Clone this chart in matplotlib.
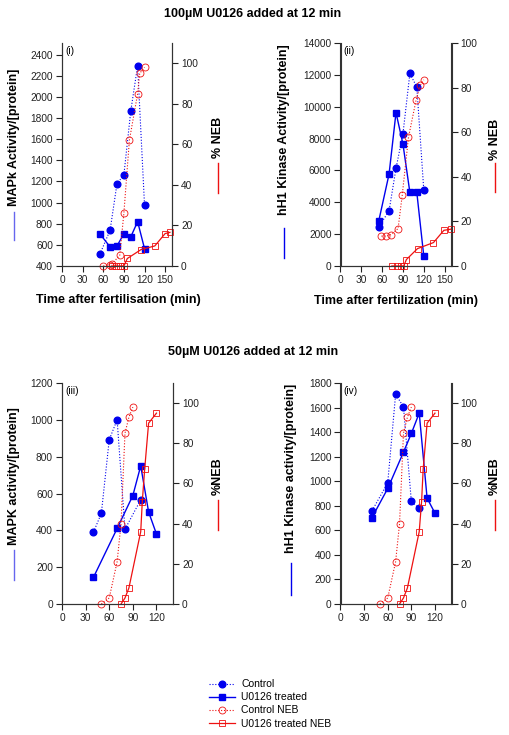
import numpy as np
import matplotlib
matplotlib.use("Agg")
import matplotlib.pyplot as plt
from matplotlib.lines import Line2D

plt.rcParams['font.family'] = ['Liberation Sans', 'DejaVu Sans']
plt.rcParams['font.size'] = 7

# ---- data ----
# (i) 100uM, MAPK
c1_t = [55, 70, 80, 90, 100, 110, 120]
c1_v = [510, 740, 1180, 1260, 1865, 2295, 980]
u1_t = [55, 70, 80, 90, 100, 110, 120]
u1_v = [705, 580, 590, 705, 675, 820, 565]
cn1_t = [60, 70, 73, 84, 90, 98, 110, 113, 120]
cn1_p = [0, 0.7, 1.2, 5.3, 26, 62, 85, 95, 98]
un1_t = [72, 78, 85, 90, 95, 115, 135, 150, 157]
un1_p = [0, 0, 0, 0, 3.7, 8.1, 9.9, 16, 16.6]

# (ii) 100uM, hH1 kinase
c2_t = [55, 70, 80, 90, 100, 110, 120]
c2_v = [2450, 3460, 6130, 8290, 12090, 11230, 4800]
u2_t = [55, 70, 80, 90, 100, 110, 120]
u2_v = [2800, 5770, 9630, 7660, 4620, 4620, 630]
cn2_t = [59, 66, 73, 83, 89, 98, 109, 115, 120]
cn2_p = [13.4, 13.4, 14.1, 16.8, 31.8, 57.7, 74.5, 81, 83.5]
un2_t = [74, 81, 87, 91, 95, 111, 134, 149, 159]
un2_p = [0, 0, 0, 0, 2.9, 7.8, 10.5, 16, 16.5]

# (iii) 50uM, MAPK
c3_t = [40, 50, 60, 70, 80, 100]
c3_v = [390, 493, 892, 1000, 406, 566]
u3_t = [40, 70, 90, 100, 110, 120]
u3_v = [145, 410, 589, 750, 500, 380]
cn3_t = [50, 60, 70, 75, 80, 85, 90]
cn3_p = [0, 3, 21, 40, 85, 93, 98]
un3_t = [75, 80, 85, 100, 102, 105, 110, 120]
un3_p = [0, 3, 8, 36, 51, 67, 90, 95]

# (iv) 50uM, hH1 kinase
c4_t = [40, 60, 70, 80, 90, 100]
c4_v = [759, 987, 1707, 1607, 835, 778]
u4_t = [40, 60, 80, 90, 100, 110, 120]
u4_v = [704, 941, 1237, 1389, 1555, 862, 740]
cn4_t = [50, 60, 70, 75, 80, 85, 90]
cn4_p = [0, 3, 21, 40, 85, 93, 98]
un4_t = [75, 80, 85, 100, 103, 105, 110, 120]
un4_p = [0, 3, 8, 36, 51, 67, 90, 95]

W, H = 510, 735
fig = plt.figure(figsize=(W/100, H/100), dpi=100)

def box(l, t, r, b):
    return [l/W, 1 - b/H, (r-l)/W, (b-t)/H]

BLUE = '#0000ee'
RED = '#ee1111'
dot = (0, (1, 1.6))

def panel(rect, ctv, utv, cnp, unp, xmax, xt, ylim, yt, tag):
    ax = fig.add_axes(rect)
    ax2 = ax.twinx()
    ax.plot(*ctv, color=BLUE, ls=dot, lw=0.8, marker='o', ms=4.8, mfc=BLUE, mec=BLUE)
    ax.plot(*utv, color=BLUE, ls='-', lw=1.0, marker='s', ms=4.5, mfc=BLUE, mec=BLUE)
    ax2.plot(*cnp, color=RED, ls=dot, lw=0.8, marker='o', ms=5, mfc='none', mec=RED, mew=0.6, clip_on=False)
    ax2.plot(*unp, color=RED, ls='-', lw=0.9, marker='s', ms=4.5, mfc='none', mec=RED, mew=0.6, clip_on=False)
    ax.set_xlim(0, xmax)
    ax.set_xticks(xt)
    ax.set_ylim(*ylim)
    ax.set_yticks(yt)
    ax2.set_ylim(0, 110 if ylim[1] != 14000 else 100)
    ax2.set_yticks(np.arange(0, 101, 20))
    for a in (ax, ax2):
        a.spines['top'].set_visible(False)
        for s in a.spines.values():
            s.set_linewidth(0.8)
            s.set_color('#333333')
        a.tick_params(direction='out', length=4, width=0.8, labelsize=7.3, colors='#222222', pad=2.5)
    ax.text(0.03, 0.985, tag, transform=ax.transAxes, ha='left', va='top', fontsize=7.3)
    return ax

panel(box(62, 43, 172, 266), (c1_t, c1_v), (u1_t, u1_v), (cn1_t, cn1_p), (un1_t, un1_p),
      160, np.arange(0, 151, 30), (400, 2510), np.arange(400, 2401, 200), '(i)')
panel(box(340.5, 43, 451.5, 266), (c2_t, c2_v), (u2_t, u2_v), (cn2_t, cn2_p), (un2_t, un2_p),
      160, np.arange(0, 151, 30), (0, 14000), np.arange(0, 14001, 2000), '(ii)')
panel(box(62, 383, 173, 604), (c3_t, c3_v), (u3_t, u3_v), (cn3_t, cn3_p), (un3_t, un3_p),
      141, np.arange(0, 121, 30), (0, 1200), np.arange(0, 1201, 200), '(iii)')
panel(box(340.5, 383, 451.5, 604), (c4_t, c4_v), (u4_t, u4_v), (cn4_t, cn4_p), (un4_t, un4_p),
      141, np.arange(0, 121, 30), (0, 1800), np.arange(0, 1801, 200), '(iv)')

def ftext(x, y, s, **kw):
    fig.text(x/W, 1 - y/H, s, ha='center', va='center', **kw)

def fline(x, y0, y1, c):
    fig.add_artist(Line2D([x/W, x/W], [1 - y0/H, 1 - y1/H], color=c, lw=1.0,
                          transform=fig.transFigure))

FS = 9
ftext(253, 14, '100µM U0126 added at 12 min', fontsize=FS, fontweight='bold')
ftext(253, 352, '50µM U0126 added at 12 min', fontsize=FS, fontweight='bold')
ftext(118, 300, 'Time after fertilisation (min)', fontsize=FS, fontweight='bold')
ftext(396, 301, 'Time after fertilization (min)', fontsize=FS, fontweight='bold')

# y labels with coloured line keys
ftext(14, 137, 'MAPk Activity/[protein]', fontsize=FS, fontweight='bold', rotation=90)
fline(14, 212, 240, '#6666ee')
ftext(284, 130, 'hH1 Kinase Activity/[protein]', fontsize=FS, fontweight='bold', rotation=90)
fline(284, 228, 258, BLUE)
ftext(218, 137, '% NEB', fontsize=FS, fontweight='bold', rotation=90)
fline(218, 163, 193, RED)
ftext(495, 139, '% NEB', fontsize=FS, fontweight='bold', rotation=90)
fline(495, 163, 192, RED)

ftext(14, 476, 'MAPK activity/[protein]', fontsize=FS, fontweight='bold', rotation=90)
fline(14, 550, 580, '#6666ee')
ftext(291, 468, 'hH1 Kinase activity/[protein]', fontsize=FS, fontweight='bold', rotation=90)
fline(291, 563, 595, BLUE)
ftext(218, 476, '%NEB', fontsize=FS, fontweight='bold', rotation=90)
fline(218, 500, 530, RED)
ftext(495, 476, '%NEB', fontsize=FS, fontweight='bold', rotation=90)
fline(495, 500, 530, RED)

handles = [
    Line2D([], [], color=BLUE, ls=dot, lw=0.8, marker='o', ms=4.8, mfc=BLUE, mec=BLUE),
    Line2D([], [], color=BLUE, ls='-', lw=1.0, marker='s', ms=4.5, mfc=BLUE, mec=BLUE),
    Line2D([], [], color=RED, ls=dot, lw=0.8, marker='o', ms=5, mfc='none', mec=RED, mew=0.6),
    Line2D([], [], color=RED, ls='-', lw=0.9, marker='s', ms=4.5, mfc='none', mec=RED, mew=0.6),
]
labels = ['Control', 'U0126 treated', 'Control NEB', 'U0126 treated NEB']
fig.legend(handles, labels, loc='upper left', bbox_to_anchor=(205/W, 1 - 675/H),
           frameon=False, fontsize=7.5, handlelength=2.5, labelspacing=0.3,
           handletextpad=0.6, borderaxespad=0)

fig.savefig('out.png', dpi=100)
